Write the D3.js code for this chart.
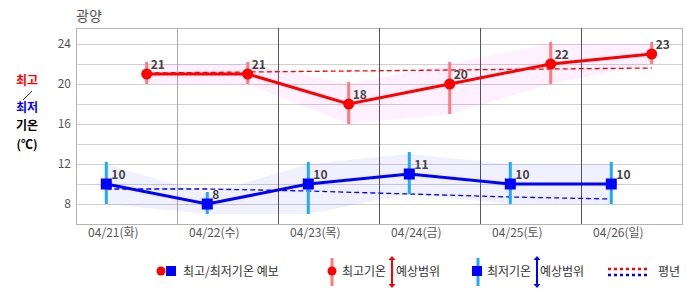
<!DOCTYPE html>
<html>
<head>
<meta charset="utf-8">
<script src="https://cdn.jsdelivr.net/npm/d3@7"></script>
<style>
  body { margin: 0; background: #fff; }
  text { font-family: "Noto Sans CJK KR", "Noto Sans", sans-serif; }
</style>
</head>
<body>
<svg width="686" height="295"></svg>
<script>
// 데이터
const days = ['04/21(화)', '04/22(수)', '04/23(목)', '04/24(금)', '04/25(토)', '04/26(일)']
const hiTemp = [21, 21, 18, 20, 22, 23]
const loTemp = [10, 8, 10, 11, 10, 10]
const hiMin = [20, 20, 16, 17, 20, 22]
const hiMax = [22, 22, 20, 22, 24, 24]
const loMin = [8, 7, 7, 9, 8, 8]
const loMax = [12, 9, 12, 13, 12, 12]
const hiNormal = [21.1, 21.2, 21.3, 21.4, 21.5, 21.6]
const loNormal = [9.5, 9.5, 9.3, 9.0, 8.7, 8.5]
const yTicks = [8, 12, 16, 20, 24]
const gridTicks = [8, 10, 12, 14, 16, 18, 20, 22, 24]

let svg = d3.select('svg')
let pLeft = 76, pRight = 682, pTop = 28, pBottom = 224

let x = d3.scaleLinear().domain([0, days.length]).range([pLeft, pRight])
let y = d3.scaleLinear().domain([6, 25.6]).range([pBottom, pTop])
// 최저는 오전, 최고는 오후 위치
let xLo = i => x(i + 0.3)
let xHi = i => x(i + 0.7)

// 제목
svg.append('text').attr('x', 76).attr('y', 21).attr('font-size', 14).attr('fill', '#555').text('광양')

// 격자
svg.append('g').selectAll('line').data(gridTicks).enter().append('line')
  .attr('x1', pLeft).attr('x2', pRight)
  .attr('y1', d => y(d) + 0.5).attr('y2', d => y(d) + 0.5)
  .attr('stroke', '#d0d0d0')
svg.append('rect').attr('x', pLeft + 0.5).attr('y', pTop + 0.5)
  .attr('width', pRight - pLeft).attr('height', pBottom - pTop)
  .attr('fill', 'none').attr('stroke', '#b4b4b4')
svg.append('g').selectAll('line').data(d3.range(1, days.length)).enter().append('line')
  .attr('x1', d => Math.round(x(d)) + 0.5).attr('x2', d => Math.round(x(d)) + 0.5)
  .attr('y1', pTop).attr('y2', pBottom)
  .attr('stroke', d => d === 1 ? '#aaa' : '#555')

// y축 눈금
svg.append('g').selectAll('text').data(yTicks).enter().append('text')
  .attr('x', 71).attr('y', d => y(d)).attr('dy', '0.35em')
  .attr('text-anchor', 'end').attr('font-size', 12).attr('fill', '#555')
  .text(d => d)

// x축 라벨
svg.append('g').selectAll('text').data(days).enter().append('text')
  .attr('x', (d, i) => x(i + 0.37)).attr('y', 237)
  .attr('text-anchor', 'middle').attr('font-size', 12).attr('fill', '#555')
  .text(d => d)

// y축 제목
let yt = svg.append('g').attr('font-size', 12).attr('font-weight', 'bold').attr('text-anchor', 'middle')
yt.append('text').attr('x', 27).attr('y', 85).attr('fill', '#f00').text('최고')
yt.append('line').attr('x1', 23).attr('y1', 100).attr('x2', 32).attr('y2', 91).attr('stroke', '#000').attr('stroke-width', 0.8)
yt.append('text').attr('x', 27).attr('y', 112).attr('fill', '#00f').text('최저')
yt.append('text').attr('x', 27).attr('y', 130).attr('fill', '#000').text('기온')
yt.append('text').attr('x', 27).attr('y', 149).attr('fill', '#000').text('(℃)')

// 예상범위 영역
let idx = d3.range(days.length)
let hiArea = d3.area().x(i => xHi(i)).y0(i => y(hiMin[i])).y1(i => y(hiMax[i]))
let loArea = d3.area().x(i => xLo(i)).y0(i => y(loMin[i])).y1(i => y(loMax[i]))
svg.append('path').attr('d', hiArea(idx)).attr('fill', '#ff00ff').attr('fill-opacity', 0.06)
svg.append('path').attr('d', loArea(idx)).attr('fill', '#0000ff').attr('fill-opacity', 0.06)

// 평년
let hiNormLine = d3.line().x(i => xHi(i)).y(i => y(hiNormal[i]))
let loNormLine = d3.line().x(i => xLo(i)).y(i => y(loNormal[i]))
svg.append('path').attr('d', hiNormLine(idx)).attr('fill', 'none')
  .attr('stroke', '#f00').attr('stroke-width', 1.3).attr('stroke-dasharray', '5,3')
svg.append('path').attr('d', loNormLine(idx)).attr('fill', 'none')
  .attr('stroke', '#00f').attr('stroke-width', 1.3).attr('stroke-dasharray', '5,3')

// 범위 막대
svg.append('g').selectAll('line').data(idx).enter().append('line')
  .attr('x1', i => xHi(i)).attr('x2', i => xHi(i))
  .attr('y1', i => y(hiMax[i]) - 2).attr('y2', i => y(hiMin[i]))
  .attr('stroke', '#ff7b7b').attr('stroke-width', 3)
svg.append('g').selectAll('line').data(idx).enter().append('line')
  .attr('x1', i => xLo(i)).attr('x2', i => xLo(i))
  .attr('y1', i => y(loMax[i]) - 2).attr('y2', i => y(loMin[i]))
  .attr('stroke', '#1eaaff').attr('stroke-width', 3)

// 예보 선
let hiLine = d3.line().x(i => xHi(i)).y(i => y(hiTemp[i]))
let loLine = d3.line().x(i => xLo(i)).y(i => y(loTemp[i]))
svg.append('path').attr('d', hiLine(idx)).attr('fill', 'none').attr('stroke', '#f00').attr('stroke-width', 3)
svg.append('path').attr('d', loLine(idx)).attr('fill', 'none').attr('stroke', '#00f').attr('stroke-width', 3)

svg.append('g').selectAll('circle').data(idx).enter().append('circle')
  .attr('cx', i => xHi(i)).attr('cy', i => y(hiTemp[i])).attr('r', 5.5).attr('fill', '#f00')
svg.append('g').selectAll('rect').data(idx).enter().append('rect')
  .attr('x', i => xLo(i) - 5.5).attr('y', i => y(loTemp[i]) - 5.5)
  .attr('width', 11).attr('height', 11).attr('fill', '#00f')

// 값 표시
let lab = svg.append('g').attr('font-size', 12).attr('font-weight', 'bold').attr('fill', '#444')
lab.selectAll('.hi').data(idx).enter().append('text')
  .attr('x', i => xHi(i) + 4).attr('y', i => y(hiTemp[i]) - 5.5).text(i => hiTemp[i])
lab.selectAll('.lo').data(idx).enter().append('text')
  .attr('x', i => xLo(i) + 5).attr('y', i => y(loTemp[i]) - 5.5).text(i => loTemp[i])

// 범례
let lg = svg.append('g')
let ly = 271
function arrow (g, cx, color) {
  g.append('line').attr('x1', cx).attr('x2', cx).attr('y1', ly - 12).attr('y2', ly + 14)
    .attr('stroke', color).attr('stroke-width', 2)
  g.append('path').attr('d', `M${cx - 3.5},${ly - 11} L${cx},${ly - 15} L${cx + 3.5},${ly - 11} Z`).attr('fill', color)
  g.append('path').attr('d', `M${cx - 3.5},${ly + 13} L${cx},${ly + 17} L${cx + 3.5},${ly + 13} Z`).attr('fill', color)
}
let legText = (tx, s) => lg.append('text').attr('x', tx).attr('y', ly).attr('dy', '0.38em')
  .attr('font-size', 12).attr('fill', '#333').text(s)

lg.append('circle').attr('cx', 161).attr('cy', ly).attr('r', 4.5).attr('fill', '#f00')
lg.append('rect').attr('x', 166).attr('y', ly - 5).attr('width', 10).attr('height', 10).attr('fill', '#00f')
legText(183, '최고/최저기온 예보')

lg.append('line').attr('x1', 332).attr('x2', 332).attr('y1', ly - 13).attr('y2', ly + 15)
  .attr('stroke', '#ff7b7b').attr('stroke-width', 3)
lg.append('circle').attr('cx', 332).attr('cy', ly).attr('r', 4.5).attr('fill', '#f00')
let t1 = legText(342, '')
t1.append('tspan').text('최고기온')
t1.append('tspan').attr('x', 396).text('예상범위')
arrow(lg, 392, '#f00')

lg.append('line').attr('x1', 478).attr('x2', 478).attr('y1', ly - 13).attr('y2', ly + 15)
  .attr('stroke', '#1eaaff').attr('stroke-width', 3)
lg.append('rect').attr('x', 472).attr('y', ly - 5).attr('width', 10).attr('height', 10).attr('fill', '#00f')
let t2 = legText(487, '')
t2.append('tspan').text('최저기온')
t2.append('tspan').attr('x', 540).text('예상범위')
arrow(lg, 537, '#00f')

lg.append('line').attr('x1', 608).attr('x2', 648).attr('y1', ly - 2).attr('y2', ly - 2)
  .attr('stroke', '#f00').attr('stroke-width', 2.5).attr('stroke-dasharray', '3,3')
lg.append('line').attr('x1', 608).attr('x2', 648).attr('y1', ly + 4).attr('y2', ly + 4)
  .attr('stroke', '#00f').attr('stroke-width', 2.5).attr('stroke-dasharray', '3,3')
legText(658, '평년')
</script>
</body>
</html>
